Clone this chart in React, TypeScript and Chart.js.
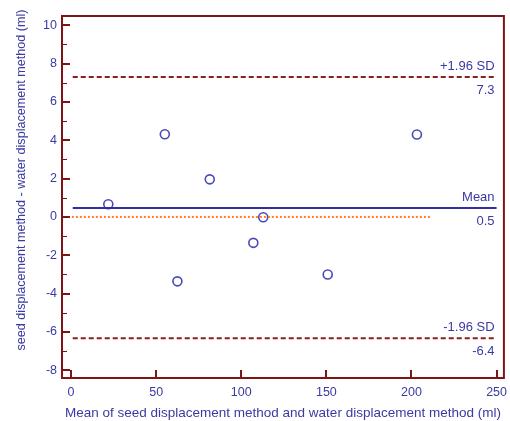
import React, { useEffect, useRef } from "react";
import { Chart, registerables } from "chart.js";

Chart.register(...registerables);

// ---- data ----
const meanValues = [21.9, 55.1, 62.5, 81.5, 107.1, 112.9, 150.8, 203.2];
const diffValues = [0.66, 4.31, -3.36, 1.96, -1.35, -0.02, -3.0, 4.3];

const limitValues = [7.3, 0.47, -6.33];
const limitNames = ["+1.96 SD", "Mean", "-1.96 SD"];
const limitLabels = ["7.3", "0.5", "-6.4"];
const limitXRange = [1, 250];
const zeroLineRange = [0.5, 212];

const xTicks = [0, 50, 100, 150, 200, 250];
const yMajorTicks = [-8, -6, -4, -2, 0, 2, 4, 6, 8, 10];
const yMinorTicks = [-7, -5, -3, -1, 1, 3, 5, 7, 9];

const xTitle = "Mean of seed displacement method and water displacement method (ml)";
const yTitle = "seed displacement method - water displacement method (ml)";

const FONT = 'Arial, "Liberation Sans", sans-serif';
const TEXT = "#3a3aa3";
const AXIS = "#7d1417";
const DASH = "#8c1d1d";
const MEANC = "#2f2fa3";
const ORANGE = "#ff7a26";
const POINT = "#4a4ab6";

const overlay = {
  id: "overlay",
  afterDatasetsDraw(chart: any) {
    const { ctx, chartArea, scales } = chart;
    const xs = scales.x;
    const ys = scales.y;
    ctx.save();
    // frame
    ctx.strokeStyle = AXIS;
    ctx.lineWidth = 2;
    ctx.strokeRect(chartArea.left, chartArea.top, chartArea.right - chartArea.left, chartArea.bottom - chartArea.top);
    // y ticks (inward)
    yMajorTicks.forEach((v) => {
      const y = Math.round(ys.getPixelForValue(v));
      ctx.lineWidth = 2;
      ctx.beginPath();
      ctx.moveTo(chartArea.left, y);
      ctx.lineTo(chartArea.left + 8, y);
      ctx.stroke();
    });
    yMinorTicks.forEach((v) => {
      const y = Math.round(ys.getPixelForValue(v)) + 0.5;
      ctx.lineWidth = 1;
      ctx.beginPath();
      ctx.moveTo(chartArea.left, y);
      ctx.lineTo(chartArea.left + 5, y);
      ctx.stroke();
    });
    xTicks.forEach((v) => {
      const x = Math.round(xs.getPixelForValue(v));
      ctx.lineWidth = 2;
      ctx.beginPath();
      ctx.moveTo(x, chartArea.bottom);
      ctx.lineTo(x, chartArea.bottom - 8);
      ctx.stroke();
    });
    // limit labels
    ctx.fillStyle = TEXT;
    ctx.font = "13px " + FONT;
    ctx.textAlign = "right";
    ctx.textBaseline = "middle";
    const rx = xs.getPixelForValue(limitXRange[1]) - 2;
    limitValues.forEach((v, i) => {
      const y = ys.getPixelForValue(v);
      ctx.fillText(limitNames[i], rx, y - 10.5);
      ctx.fillText(limitLabels[i], rx, y + 13);
    });
    // y title
    ctx.save();
    ctx.font = "12.6px " + FONT;
    ctx.translate(22, 180);
    ctx.rotate(-Math.PI / 2);
    ctx.textAlign = "center";
    ctx.textBaseline = "middle";
    ctx.fillText(yTitle, 0, 0);
    ctx.restore();
    ctx.restore();
  },
};

export default function App() {
  const ref = useRef<HTMLCanvasElement>(null);
  useEffect(() => {
    document.body.style.margin = "0";
    const canvas = ref.current!;
    const limitSets = limitValues.map((v, i) => ({
      label: limitNames[i],
      data: [
        { x: limitXRange[0], y: v },
        { x: limitXRange[1], y: v },
      ],
      showLine: true,
      pointRadius: 0,
      borderColor: i === 1 ? MEANC : DASH,
      borderWidth: 2,
      borderDash: i === 1 ? [] : [5, 3],
      fill: false,
    }));
    const chart = new Chart(canvas, {
      type: "scatter",
      data: {
        datasets: [
          ...limitSets,
          {
            label: "zero",
            data: [
              { x: zeroLineRange[0], y: 0 },
              { x: zeroLineRange[1], y: 0 },
            ],
            showLine: true,
            pointRadius: 0,
            borderColor: ORANGE,
            borderWidth: 2,
            borderDash: [2, 2],
          },
          {
            label: "differences",
            data: meanValues.map((m, i) => ({ x: m, y: diffValues[i] })),
            pointRadius: 4.5,
            pointBorderWidth: 1.6,
            borderColor: POINT,
            backgroundColor: "rgba(255,255,255,0)",
            pointStyle: "circle",
          },
        ] as any,
      },
      options: {
        animation: false,
        responsive: false,
        devicePixelRatio: 1,
        layout: { padding: { top: 16, right: 6, left: 0, bottom: 0 } },
        plugins: { legend: { display: false }, tooltip: { enabled: false } },
        scales: {
          x: {
            type: "linear",
            min: -5.3,
            max: 254.3,
            afterFit: (s: any) => {
              s.height = 43;
              s.paddingLeft = 0;
              s.paddingRight = 0;
            },
            grid: { display: false, drawTicks: false },
            border: { display: false },
            ticks: {
              stepSize: 50,
              includeBounds: false,
              padding: 7,
              color: TEXT,
              font: { size: 12.5, family: FONT },
              maxRotation: 0,
            },
            title: {
              display: true,
              text: xTitle,
              color: TEXT,
              font: { size: 13.5, family: FONT },
              padding: { top: 0, bottom: 0 },
            },
          },
          y: {
            type: "linear",
            min: -8.4,
            max: 10.48,
            afterFit: (s: any) => {
              s.width = 62;
              s.paddingTop = 0;
              s.paddingBottom = 0;
            },
            grid: { display: false, drawTicks: false },
            border: { display: false },
            ticks: {
              stepSize: 2,
              includeBounds: false,
              padding: 5,
              color: TEXT,
              font: { size: 12.5, family: FONT },
            },
          },
        },
      } as any,
      plugins: [overlay],
    });
    return () => chart.destroy();
  }, []);
  return (
    <div style={{ width: 510, height: 421 }}>
      <canvas ref={ref} width={510} height={421} style={{ width: 510, height: 421, display: "block" }} />
    </div>
  );
}
